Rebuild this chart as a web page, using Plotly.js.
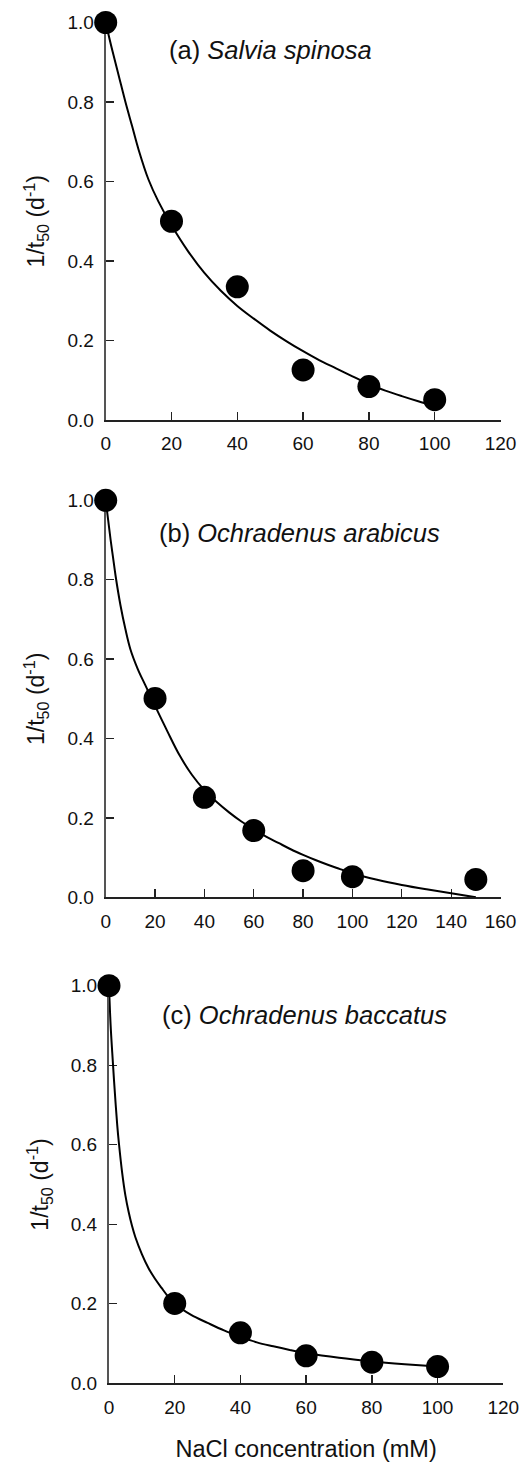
<!DOCTYPE html>
<html>
<head>
<meta charset="utf-8">
<script src="https://cdn.plot.ly/plotly-3.0.1.min.js"></script>
<style>html,body{margin:0;padding:0;background:#fff;}#chart{width:522px;height:1465px;}</style>
</head>
<body>
<div id="chart"></div>
<script>
// ---- Data ----
// (a) Salvia spinosa
const aNaCl = [0, 20, 40, 60, 80, 100];
const aRate = [1.0, 0.5, 0.335, 0.126, 0.084, 0.051];
const aFitX = [0, 2, 4, 6, 8, 10, 13, 16, 20, 25, 30, 35, 40, 45, 50, 55, 60, 65, 70, 75, 80, 85, 90, 95, 100];
const aFitY = [1.0, 0.93, 0.865, 0.80, 0.74, 0.68, 0.605, 0.55, 0.49, 0.425, 0.37, 0.325, 0.287, 0.255, 0.225, 0.198, 0.173, 0.15, 0.13, 0.11, 0.09, 0.074, 0.06, 0.047, 0.035];

// (b) Ochradenus arabicus
const bNaCl = [0, 20, 40, 60, 80, 100, 150];
const bRate = [1.0, 0.501, 0.252, 0.168, 0.067, 0.052, 0.045];
const bFitX = [0, 1, 2, 3, 4, 6, 8, 10, 13, 16, 20, 25, 30, 35, 40, 45, 50, 55, 60, 65, 70, 75, 80, 85, 90, 95, 100, 110, 120, 130, 140, 150];
const bFitY = [1.0, 0.95, 0.90, 0.855, 0.81, 0.735, 0.675, 0.625, 0.575, 0.535, 0.482, 0.418, 0.357, 0.308, 0.27, 0.24, 0.214, 0.191, 0.172, 0.153, 0.137, 0.121, 0.107, 0.094, 0.082, 0.071, 0.06, 0.044, 0.031, 0.02, 0.01, 0.0];

// (c) Ochradenus baccatus
const cNaCl = [0, 20, 40, 60, 80, 100];
const cRate = [1.0, 0.201, 0.127, 0.069, 0.053, 0.042];
const cFitX = [0, 0.5, 1, 1.5, 2, 2.5, 3, 4, 5, 6, 7, 8, 10, 12, 14, 16, 18, 20, 25, 30, 35, 40, 45, 50, 55, 60, 70, 80, 90, 100];
const cFitY = [1.0, 0.90, 0.83, 0.765, 0.705, 0.65, 0.605, 0.53, 0.472, 0.43, 0.396, 0.368, 0.325, 0.29, 0.263, 0.24, 0.218, 0.2, 0.172, 0.152, 0.133, 0.117, 0.103, 0.093, 0.084, 0.076, 0.064, 0.055, 0.048, 0.042];

const panelLabels = ['(a) <i>Salvia spinosa</i>', '(b) <i>Ochradenus arabicus</i>', '(c) <i>Ochradenus baccatus</i>'];
const yTitle = '1/t<sub>50</sub> (d<sup>-1</sup>)';
const xTitle = 'NaCl concentration (mM)';
const yTicks = [0, 0.2, 0.4, 0.6, 0.8, 1.0];
const yTickText = ['0.0', '0.2', '0.4', '0.6', '0.8', '1.0'];

// ---- Build ----
const W = 522, H = 1465;
const FONT = 'Liberation Sans, Arial, Helvetica, sans-serif';
function px(x) { return x / W; }
function py(y) { return (H - y) / H; }

const marker = {size: 23, color: '#000'};
const lineStyle = {color: '#000', width: 2, shape: 'spline', smoothing: 1};

const sets = [
  {fx: aFitX, fy: aFitY, px: aNaCl, py: aRate, ax: ''},
  {fx: bFitX, fy: bFitY, px: bNaCl, py: bRate, ax: '2'},
  {fx: cFitX, fy: cFitY, px: cNaCl, py: cRate, ax: '3'}
];
const traces = [];
sets.forEach(s => {
  traces.push({x: s.fx, y: s.fy, xaxis: 'x' + s.ax, yaxis: 'y' + s.ax, mode: 'lines', line: lineStyle, cliponaxis: false, hoverinfo: 'skip', showlegend: false});
  traces.push({x: s.px, y: s.py, xaxis: 'x' + s.ax, yaxis: 'y' + s.ax, mode: 'markers', marker: marker, cliponaxis: false, showlegend: false});
});

function xAxis(domain, range, dtick, anchor, title) {
  const ax = {
    domain: domain, range: range, dtick: dtick, tick0: 0, anchor: anchor,
    showgrid: false, zeroline: false, showline: true, linecolor: '#222', linewidth: 1.5,
    ticks: 'inside', ticklen: 8, tickwidth: 1.3, tickcolor: '#222',
    tickfont: {family: FONT, size: 19, color: '#111'}, ticklabelstandoff: 6,
    layer: 'below traces', fixedrange: true
  };
  if (title) ax.title = {text: title, font: {family: FONT, size: 23.5, color: '#111'}, standoff: 24};
  return ax;
}
function yAxis(domain, anchor) {
  return {
    domain: domain, range: [0, 1.0], tickvals: yTicks, ticktext: yTickText, anchor: anchor,
    showgrid: false, zeroline: false, showline: true, linecolor: '#555', linewidth: 2,
    ticks: 'inside', ticklen: 8, tickwidth: 1.3, tickcolor: '#222',
    tickfont: {family: FONT, size: 19, color: '#111'}, ticklabelstandoff: 6,
    title: {text: yTitle, font: {family: FONT, size: 23, color: '#111'}, standoff: 16},
    layer: 'below traces', fixedrange: true
  };
}

const layout = {
  width: W, height: H,
  margin: {l: 0, r: 0, t: 0, b: 0},
  paper_bgcolor: '#fff', plot_bgcolor: '#fff',
  showlegend: false,
  xaxis: xAxis([px(105.7), px(500.5)], [0, 120], 20, 'y'),
  yaxis: yAxis([py(420), py(22.5)], 'x'),
  xaxis2: xAxis([px(105.7), px(500.5)], [0, 160], 20, 'y2'),
  yaxis2: yAxis([py(897.3), py(500.3)], 'x2'),
  xaxis3: xAxis([px(109), px(503.3)], [0, 120], 20, 'y3', xTitle),
  yaxis3: yAxis([py(1383.3), py(985.7)], 'x3'),
  annotations: [
    {text: panelLabels[0], xref: 'paper', yref: 'paper', x: px(166.5), y: py(50), xanchor: 'left', yanchor: 'middle', showarrow: false, font: {family: FONT, size: 25.5, color: '#111'}},
    {text: panelLabels[1], xref: 'paper', yref: 'paper', x: px(157), y: py(532.5), xanchor: 'left', yanchor: 'middle', showarrow: false, font: {family: FONT, size: 25.5, color: '#111'}},
    {text: panelLabels[2], xref: 'paper', yref: 'paper', x: px(160), y: py(1015), xanchor: 'left', yanchor: 'middle', showarrow: false, font: {family: FONT, size: 25.5, color: '#111'}}
  ]
};

Plotly.newPlot('chart', traces, layout, {staticPlot: true, displayModeBar: false});
</script>
</body>
</html>
